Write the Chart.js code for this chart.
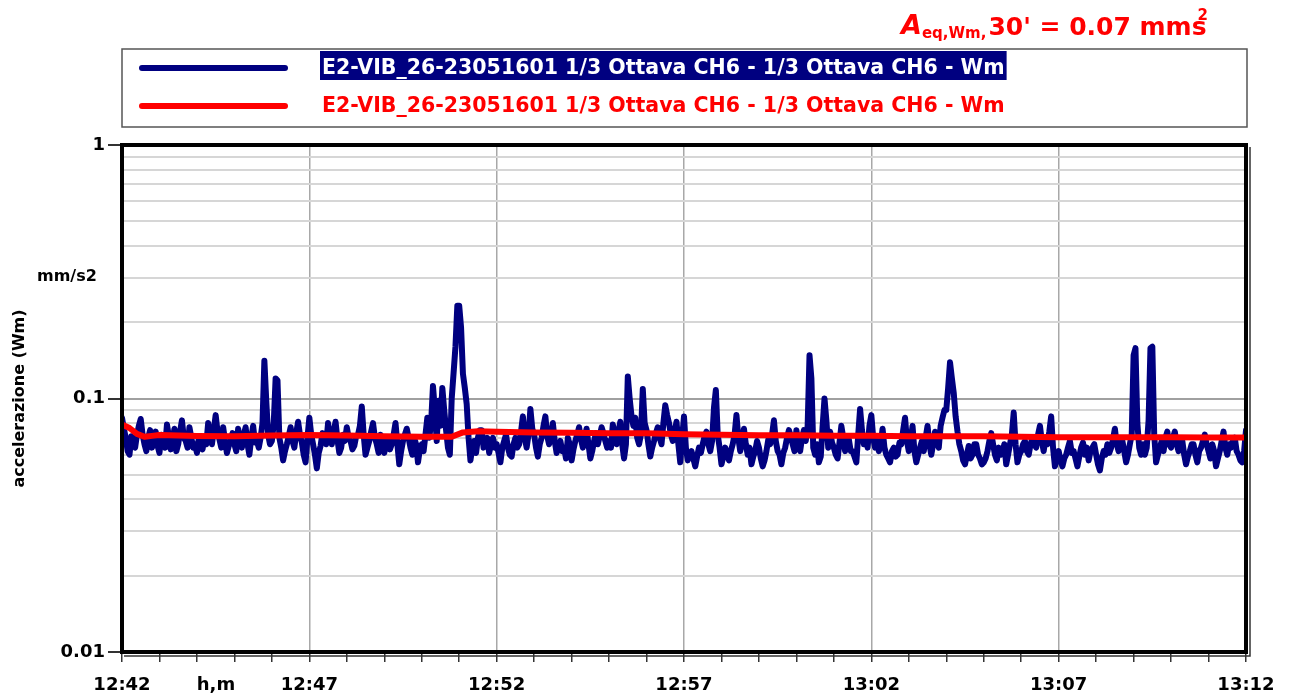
<!DOCTYPE html>
<html>
<head>
<meta charset="utf-8">
<script src="https://cdn.jsdelivr.net/npm/chart.js@4/dist/chart.umd.min.js"></script>
<style>
html,body{margin:0;padding:0;background:#fff;}
canvas{display:block;}
</style>
</head>
<body>
<canvas id="c" width="1289" height="698"></canvas>
<script>
// ---- DATA ----
const startHour = 12, startMin = 42;          // 12:42
const durationMin = 30;                       // to 13:12
const samplesPerMin = 20;                     // one sample every 3 s
const yTickLabels = [0.01, 0.1, 1];
const seriesLabel = "E2-VIB_26-23051601 1/3 Ottava CH6 - 1/3 Ottava CH6 - Wm";
const summaryText = { sym: "A", sub: "eq,Wm,", main: "30' = 0.07 mm", unit: "s", sup: "2" };
const yUnit = "mm/s2";
const yTitle = "accelerazione (Wm)";
const xUnit = "h,m";

// Blue: instantaneous Wm-weighted acceleration (mm/s2), one row per minute
const blueMin00 = [0.084,0.076,0.070,0.062,0.060,0.071,0.066,0.064,0.072,0.078,0.083,0.072,0.066,0.062,0.070,0.075,0.064,0.068,0.074,0.065];
const blueMin01 = [0.061,0.072,0.068,0.064,0.079,0.071,0.063,0.069,0.076,0.062,0.066,0.074,0.082,0.070,0.068,0.064,0.077,0.070,0.064,0.066];
const blueMin02 = [0.061,0.070,0.067,0.063,0.070,0.066,0.080,0.072,0.066,0.075,0.086,0.074,0.069,0.064,0.077,0.068,0.061,0.065,0.068,0.073];
const blueMin03 = [0.066,0.062,0.076,0.069,0.064,0.072,0.077,0.066,0.060,0.070,0.078,0.067,0.068,0.064,0.070,0.080,0.141,0.098,0.072,0.066];
const blueMin04 = [0.068,0.080,0.120,0.118,0.070,0.064,0.057,0.062,0.066,0.071,0.077,0.068,0.064,0.073,0.081,0.072,0.067,0.060,0.056,0.070];
const blueMin05 = [0.084,0.072,0.066,0.060,0.053,0.061,0.065,0.073,0.070,0.066,0.080,0.071,0.066,0.074,0.081,0.069,0.061,0.064,0.072,0.068];
const blueMin06 = [0.077,0.070,0.068,0.063,0.065,0.071,0.072,0.078,0.093,0.072,0.060,0.064,0.068,0.074,0.080,0.070,0.066,0.061,0.072,0.066];
const blueMin07 = [0.061,0.067,0.070,0.063,0.066,0.072,0.080,0.066,0.055,0.062,0.068,0.072,0.076,0.070,0.064,0.060,0.070,0.066,0.056,0.063];
const blueMin08 = [0.066,0.062,0.072,0.084,0.070,0.080,0.112,0.090,0.068,0.098,0.078,0.110,0.090,0.075,0.064,0.060,0.100,0.126,0.160,0.232];
const blueMin09 = [0.232,0.190,0.125,0.110,0.095,0.070,0.057,0.064,0.068,0.061,0.070,0.075,0.075,0.064,0.066,0.070,0.061,0.066,0.070,0.064];
const blueMin10 = [0.066,0.061,0.056,0.064,0.068,0.072,0.064,0.060,0.059,0.066,0.070,0.064,0.066,0.074,0.085,0.070,0.064,0.072,0.091,0.076];
const blueMin11 = [0.072,0.064,0.059,0.066,0.070,0.078,0.085,0.071,0.066,0.072,0.080,0.068,0.061,0.065,0.068,0.062,0.064,0.058,0.070,0.066];
const blueMin12 = [0.057,0.063,0.068,0.072,0.077,0.069,0.064,0.070,0.076,0.066,0.058,0.062,0.068,0.073,0.066,0.071,0.077,0.073,0.068,0.064];
const blueMin13 = [0.068,0.064,0.079,0.072,0.066,0.074,0.081,0.066,0.058,0.066,0.122,0.100,0.085,0.078,0.084,0.070,0.066,0.072,0.109,0.080];
const blueMin14 = [0.075,0.066,0.059,0.064,0.068,0.073,0.077,0.070,0.066,0.080,0.094,0.086,0.080,0.072,0.068,0.074,0.081,0.066,0.056,0.070];
const blueMin15 = [0.085,0.064,0.057,0.060,0.062,0.058,0.054,0.059,0.064,0.061,0.066,0.071,0.074,0.066,0.062,0.068,0.092,0.108,0.072,0.064];
const blueMin16 = [0.055,0.059,0.064,0.060,0.057,0.062,0.066,0.072,0.086,0.070,0.062,0.068,0.076,0.066,0.060,0.064,0.055,0.059,0.062,0.068];
const blueMin17 = [0.064,0.058,0.054,0.057,0.062,0.069,0.066,0.072,0.082,0.068,0.062,0.060,0.055,0.061,0.064,0.070,0.075,0.071,0.066,0.062];
const blueMin18 = [0.075,0.067,0.062,0.070,0.075,0.068,0.078,0.148,0.120,0.064,0.060,0.066,0.056,0.059,0.078,0.100,0.082,0.064,0.074,0.067];
const blueMin19 = [0.064,0.060,0.058,0.067,0.078,0.070,0.062,0.068,0.069,0.062,0.062,0.059,0.056,0.072,0.091,0.075,0.066,0.071,0.064,0.078];
const blueMin20 = [0.086,0.070,0.064,0.068,0.062,0.066,0.076,0.064,0.060,0.058,0.056,0.062,0.064,0.059,0.060,0.067,0.066,0.075,0.084,0.068];
const blueMin21 = [0.062,0.068,0.078,0.062,0.056,0.060,0.064,0.068,0.062,0.070,0.078,0.066,0.060,0.066,0.074,0.068,0.064,0.078,0.084,0.090];
const blueMin22 = [0.090,0.110,0.139,0.120,0.105,0.085,0.074,0.066,0.062,0.057,0.055,0.060,0.065,0.058,0.060,0.066,0.066,0.060,0.058,0.055];
const blueMin23 = [0.056,0.058,0.062,0.068,0.073,0.066,0.060,0.057,0.064,0.060,0.061,0.066,0.055,0.060,0.066,0.072,0.088,0.066,0.056,0.060];
const blueMin24 = [0.062,0.066,0.068,0.062,0.060,0.066,0.070,0.066,0.064,0.072,0.078,0.068,0.062,0.070,0.066,0.074,0.085,0.064,0.054,0.058];
const blueMin25 = [0.062,0.057,0.054,0.058,0.060,0.064,0.068,0.061,0.062,0.058,0.054,0.059,0.064,0.067,0.060,0.064,0.057,0.062,0.064,0.066];
const blueMin26 = [0.060,0.055,0.052,0.058,0.062,0.060,0.066,0.061,0.064,0.069,0.076,0.066,0.062,0.067,0.068,0.062,0.056,0.060,0.066,0.072];
const blueMin27 = [0.148,0.158,0.080,0.064,0.060,0.066,0.060,0.064,0.082,0.158,0.160,0.072,0.056,0.060,0.064,0.068,0.062,0.070,0.074,0.066];
const blueMin28 = [0.064,0.070,0.074,0.066,0.062,0.068,0.068,0.060,0.055,0.059,0.062,0.066,0.066,0.060,0.056,0.062,0.064,0.068,0.072,0.066];
const blueMin29 = [0.062,0.058,0.066,0.062,0.054,0.058,0.062,0.068,0.074,0.064,0.060,0.066,0.064,0.068,0.070,0.062,0.060,0.057,0.056,0.062];
const blueEnd   = [0.075];

// Red: running equivalent level (mm/s2)
const redTimes  = [0,0.2,0.4,0.6,0.8,1,2,3,4,5,6,7,8,8.8,9.1,9.5,10,11,12,13,14,15,16,17,18,19,20,21,22,23,24,25,26,27,28,29,30];
const redValues = [0.079,0.0765,0.0725,0.0706,0.0712,0.0718,0.0712,0.0709,0.0715,0.0718,0.0715,0.0709,0.0706,0.0706,0.0735,0.0743,0.0739,0.0735,0.0732,0.0729,0.0729,0.0722,0.0719,0.0716,0.0716,0.0713,0.0713,0.071,0.071,0.071,0.0707,0.0704,0.0704,0.0704,0.0704,0.0701,0.0701];

// ---- BUILD ----
const blueValues = [].concat(blueMin00,blueMin01,blueMin02,blueMin03,blueMin04,blueMin05,blueMin06,blueMin07,blueMin08,blueMin09,
  blueMin10,blueMin11,blueMin12,blueMin13,blueMin14,blueMin15,blueMin16,blueMin17,blueMin18,blueMin19,
  blueMin20,blueMin21,blueMin22,blueMin23,blueMin24,blueMin25,blueMin26,blueMin27,blueMin28,blueMin29,blueEnd);
const blueData = blueValues.map((v,i)=>({x: i/samplesPerMin, y: v}));
const redData = redTimes.map((t,i)=>({x:t, y:redValues[i]}));

function timeLabel(m){
  const tot = startHour*60+startMin+m;
  const h = Math.floor(tot/60), mm = tot%60;
  return h + ":" + (mm<10?"0":"") + mm;
}
function isDecade(v){ const l=Math.log10(v); return Math.abs(l-Math.round(l))<1e-6; }

const FONT = "'DejaVu Sans', Verdana, sans-serif";
const NAVY = "#000080", RED = "#ff0000";

function fitFont(ctx, text, weight, targetW, base){
  ctx.font = weight+" "+base+"px "+FONT;
  const w = ctx.measureText(text).width;
  return base*targetW/w;
}

const decorPlugin = {
  id:'decor',
  afterDraw(chart){
    const ctx = chart.ctx, a = chart.chartArea;
    const ds = chart.data.datasets;
    ctx.save();
    // plot border
    ctx.strokeStyle = "#000"; ctx.lineWidth = 4;
    ctx.strokeRect(a.left, a.top, a.right-a.left, a.bottom-a.top);
    ctx.strokeStyle = "#333"; ctx.lineWidth = 1.5;
    ctx.beginPath();
    ctx.moveTo(a.left+2, a.bottom+4); ctx.lineTo(a.right+4, a.bottom+4); ctx.lineTo(a.right+4, a.top+2);
    ctx.stroke();

    // legend box
    const lx = a.left, ly = 49, lw = a.right - a.left + 1, lh = 78;
    ctx.strokeStyle = "#555"; ctx.lineWidth = 1.5;
    ctx.strokeRect(lx, ly, lw, lh);
    const rows = [68, 106];
    const fs = fitFont(ctx, ds[0].label, "bold", 683, 18);
    ctx.font = "bold "+fs.toFixed(2)+"px "+FONT;
    ctx.textBaseline = "middle"; ctx.textAlign = "left";
    ds.forEach((d,i)=>{
      const y = rows[i];
      ctx.strokeStyle = d.borderColor; ctx.lineWidth = 6; ctx.lineCap = "round";
      ctx.beginPath(); ctx.moveTo(142,y); ctx.lineTo(285,y); ctx.stroke();
      const tw = ctx.measureText(d.label).width;
      if(i===0){
        ctx.fillStyle = NAVY; ctx.fillRect(320, 51, tw+4, 29);
        ctx.fillStyle = "#fff";
      } else ctx.fillStyle = d.borderColor;
      ctx.fillText(d.label, 322, y+1);
    });

    // summary title
    ctx.fillStyle = RED; ctx.textBaseline = "alphabetic";
    let x = 901;
    ctx.font = "italic bold 27px "+FONT;
    ctx.fillText(summaryText.sym, x, 34); x += ctx.measureText(summaryText.sym).width;
    ctx.font = "bold 15px "+FONT;
    ctx.fillText(summaryText.sub, x, 38); x += ctx.measureText(summaryText.sub).width + 2;
    ctx.font = "bold 25px "+FONT;
    ctx.fillText(summaryText.main, x, 35); x += ctx.measureText(summaryText.main).width;
    ctx.fillText(summaryText.unit, x, 35);
    const uw = ctx.measureText(summaryText.unit).width;
    ctx.font = "bold 15px "+FONT;
    ctx.fillText(summaryText.sup, x+uw-9, 20);

    // axis units
    ctx.fillStyle = "#000";
    ctx.font = "bold 16px "+FONT; ctx.textAlign = "left"; ctx.textBaseline = "middle";
    ctx.fillText(yUnit, 37, 277);
    ctx.font = "bold 18px "+FONT; ctx.textAlign = "center";
    ctx.fillText(xUnit, 216, 685);
    ctx.restore();
  }
};

new Chart(document.getElementById('c'), {
  type:'line',
  data:{
    datasets:[
      {label: seriesLabel, data: blueData, borderColor: NAVY, borderWidth: 6, pointRadius: 0,
       borderJoinStyle:'round', borderCapStyle:'round', tension:0, order:1},
      {label: seriesLabel, data: redData, borderColor: RED, borderWidth: 6, pointRadius: 0,
       borderJoinStyle:'round', borderCapStyle:'round', tension:0, order:0}
    ]
  },
  options:{
    responsive:false, animation:false, events:[],
    layout:{padding:{left:0, right:43, top:145, bottom:0}},
    plugins:{legend:{display:false}, tooltip:{enabled:false}, title:{display:false}},
    scales:{
      x:{
        type:'linear', min:0, max:durationMin,
        afterFit(s){ s.height = 46; },
        border:{display:false},
        ticks:{stepSize:1, autoSkip:false, maxRotation:0, padding:13,
          color:"#000", font:{family:FONT, size:18, weight:'bold'},
          callback:(v)=> (v%5===0 ? timeLabel(v) : '')},
        grid:{
          color:(c)=> (c.tick && c.tick.value%5===0 && c.tick.value>0 && c.tick.value<durationMin) ? '#a8a8a8' : 'rgba(0,0,0,0)',
          tickColor:'#333', lineWidth:1.5, tickLength:10, drawTicks:true
        }
      },
      y:{
        type:'logarithmic', min:0.01, max:1,
        afterFit(s){ s.width = 122; },
        afterBuildTicks(s){
          const t=[]; for(const d of [0.01,0.1]){ for(let k=1;k<10;k++){ t.push({value: +(d*k).toPrecision(3)}); } }
          t.push({value:1}); s.ticks = t;
        },
        border:{display:false},
        title:{display:true, text:yTitle, color:"#000", font:{family:FONT, size:16, weight:'bold'}, padding:{top:10,bottom:0}},
        ticks:{autoSkip:false, padding:3, color:"#000", font:{family:FONT, size:18, weight:'bold'},
          callback:(v)=> (yTickLabels.some(l=>Math.abs(l-v)<1e-9) ? String(v) : '')},
        grid:{
          color:(c)=> (c.tick && Math.abs(c.tick.value-0.1)<1e-9) ? '#a0a0a0' : '#d6d6d6',
          lineWidth:2,
          tickColor:(c)=> (c.tick && isDecade(c.tick.value)) ? '#333' : 'rgba(0,0,0,0)',
          tickLength:14
        }
      }
    }
  },
  plugins:[decorPlugin]
});
</script>
</body>
</html>
